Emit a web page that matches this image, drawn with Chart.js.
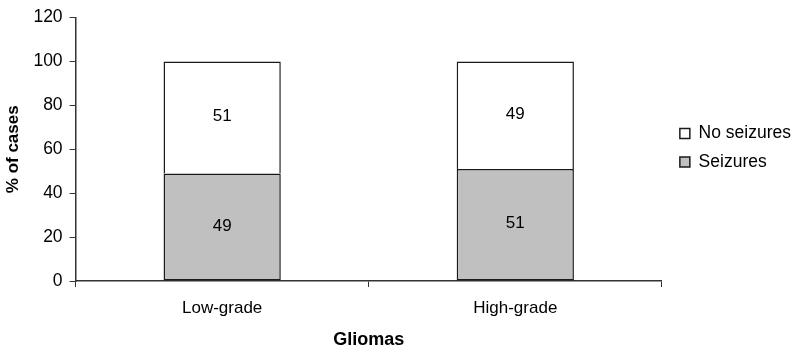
<!DOCTYPE html>
<html>
<head>
<meta charset="utf-8">
<script src="https://cdn.jsdelivr.net/npm/chart.js@4/dist/chart.umd.min.js"></script>
<style>
  html, body { margin: 0; padding: 0; background: #fff; }
  #wrap { width: 794px; height: 354px; }
</style>
</head>
<body>
<div id="wrap"><canvas id="gliomaChart" width="794" height="354"></canvas></div>
<script>
const categories = ['Low-grade', 'High-grade'];
const seizures = [49, 51];
const noSeizures = [51, 49];
const yTicks = [0, 20, 40, 60, 80, 100, 120];

const FONT = '"Liberation Sans", Arial, sans-serif';

// writes the value in the middle of each bar segment
const segmentLabels = {
  id: 'segmentLabels',
  afterDatasetsDraw(chart) {
    const ctx = chart.ctx;
    ctx.save();
    ctx.font = '17px ' + FONT;
    ctx.fillStyle = '#000';
    ctx.textAlign = 'center';
    ctx.textBaseline = 'middle';
    chart.data.datasets.forEach((ds, i) => {
      chart.getDatasetMeta(i).data.forEach((bar, j) => {
        const mid = (bar.y + bar.base) / 2;
        ctx.fillText(ds.data[j], bar.x, mid - 1);
      });
    });
    ctx.restore();
  }
};

// nudge the legend a little to the right, closer to the canvas edge
const legendShift = {
  id: 'legendShift',
  afterLayout(chart) {
    if (chart.legend) {
      chart.legend.left += 7;
      chart.legend.right += 7;
    }
  }
};

const ctx = document.getElementById('gliomaChart').getContext('2d');
const gliomaChart = new Chart(ctx, {
  type: 'bar',
  data: {
    labels: categories,
    datasets: [
      {
        label: 'Seizures',
        data: seizures,
        backgroundColor: '#c0c0c0',
        borderColor: '#1a1a1a',
        borderWidth: 1.5,
        borderSkipped: false,
        barPercentage: 0.4,
        categoryPercentage: 1
      },
      {
        label: 'No seizures',
        data: noSeizures,
        backgroundColor: '#ffffff',
        borderColor: '#1a1a1a',
        borderWidth: 1.5,
        borderSkipped: 'bottom',
        barPercentage: 0.4,
        categoryPercentage: 1
      }
    ]
  },
  options: {
    responsive: false,
    animation: false,
    layout: {
      padding: { top: 6, right: 0, left: 3, bottom: 3 }
    },
    plugins: {
      legend: {
        position: 'right',
        align: 'start',
        reverse: true,
        // blank title only pushes the items down to the middle of the plot
        title: {
          display: true,
          text: ' ',
          padding: { top: 91, bottom: 0 },
          font: { family: FONT, size: 14 }
        },
        labels: {
          boxWidth: 10,
          boxHeight: 10,
          padding: 11,
          color: '#000',
          font: { family: FONT, size: 17.5 }
        }
      },
      tooltip: { enabled: false }
    },
    scales: {
      x: {
        stacked: true,
        grid: {
          offset: true,
          drawOnChartArea: false,
          drawTicks: true,
          tickLength: 6,
          color: '#333'
        },
        border: { color: '#333', width: 1.5 },
        ticks: {
          color: '#000',
          padding: 11,
          font: { family: FONT, size: 17 }
        },
        title: {
          display: true,
          text: 'Gliomas',
          color: '#000',
          padding: { top: 0, bottom: 0 },
          font: { family: FONT, size: 18, weight: 'bold' }
        }
      },
      y: {
        stacked: true,
        min: 0,
        max: 120,
        afterBuildTicks(axis) {
          axis.ticks = yTicks.map(v => ({ value: v }));
        },
        grid: {
          drawOnChartArea: false,
          drawTicks: true,
          tickLength: 6,
          color: '#333'
        },
        border: { color: '#333', width: 1.5 },
        ticks: {
          color: '#000',
          padding: 7,
          font: { family: FONT, size: 17.5 }
        },
        title: {
          display: true,
          text: '% of cases',
          color: '#000',
          padding: { top: 0, bottom: 3 },
          font: { family: FONT, size: 17, weight: 'bold' }
        }
      }
    }
  },
  plugins: [segmentLabels, legendShift]
});
</script>
</body>
</html>
